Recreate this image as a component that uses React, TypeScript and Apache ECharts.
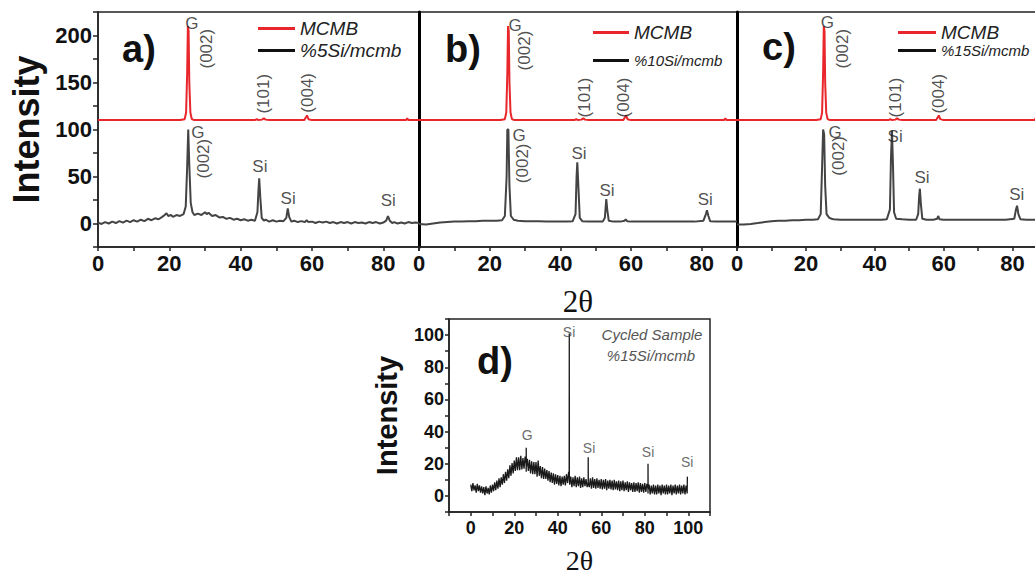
import React, { useEffect, useRef } from 'react';
import * as echarts from 'echarts';

const FONT = '"Liberation Sans", Arial, Helvetica, sans-serif';
const SERIF = '"Liberation Serif", "Times New Roman", "DejaVu Serif", serif';

// tick labels
const topXTicks = [0, 20, 40, 60, 80];
const topYTicks = [0, 50, 100, 150, 200];
const cycledXTicks = [0, 20, 40, 60, 80, 100];
const cycledYTicks = [0, 20, 40, 60, 80, 100];

// legends
const mcmbName = 'MCMB';
const sampleNames = ['%5Si/mcmb', '%10Si/mcmb', '%15Si/mcmb'];

// MCMB pattern (offset by +110 in the stacked plots)
const mcmb: number[][] = [
  [0, 110], [5, 110], [10, 110], [15, 110], [20, 110], [23, 110], [24.3, 111], [24.7, 118], [25.0, 160],
  [25.2, 210], [25.4, 205], [25.6, 150], [25.9, 118], [26.3, 111], [27, 110], [30, 110], [35, 110], [40, 110],
  [44, 110], [44.5, 111], [45, 110], [46, 110.5], [46.5, 112], [47, 110.5], [48, 110], [52, 110], [57.8, 110],
  [58.3, 113], [58.6, 115], [59, 111], [60, 110], [65, 110], [70, 110], [77, 110], [85, 110], [86.4, 110],
  [86.7, 112], [87, 110], [90, 110],
];

const si5: number[][] = [
  [0, 1], [1, -0.5], [2, 1.5], [3, 0], [4, 2], [5, 0.5], [6, 2.5], [7, 1], [8, 3], [9, 1.5], [10, 3.5], [11, 2],
  [12, 4], [13, 2.5], [14, 5], [15, 3.5], [16, 5.5], [17, 4.5], [18, 7], [18.7, 9], [19.2, 11], [19.7, 8], [20.5, 9],
  [21, 7], [22, 9], [23, 8], [24, 10], [24.6, 18], [25.0, 60], [25.3, 100], [25.6, 62], [26, 22], [26.5, 12], [27, 9],
  [28, 10.5], [29, 9], [30, 12], [30.5, 10], [31, 11.5], [32, 8], [33, 9], [34, 6.5], [35, 7], [36, 5], [37, 6],
  [38, 4], [39, 5], [40, 3.5], [41, 4.5], [42, 3], [43, 4], [44, 3], [44.7, 12], [45.0, 36], [45.2, 48], [45.5, 28],
  [45.9, 6], [46.5, 3], [47, 4], [48, 2], [49, 3.5], [50, 2], [51, 3], [52, 2.5], [52.8, 6], [53.2, 16], [53.6, 7],
  [54.2, 2], [55, 3], [56, 1.5], [57, 2.5], [58, 1.5], [58.5, 3.5], [59, 1.5], [60, 2], [61, 0.5], [62, 2], [63, 1],
  [64, 2], [65, 0.5], [66, 1.5], [67, 0], [68, 1.5], [69, 0.5], [70, 1.5], [71, 0], [72, 1.5], [73, 0.5], [74, 1],
  [75, 0], [76, 1.5], [77, 0.5], [78, 1.5], [79, 0], [80, 1], [80.8, 3], [81.3, 8], [81.8, 3], [82.5, 0.5], [83, 1.5],
  [84, 0], [85, 1], [86, 0], [87, 1.5], [88, 0.5], [89, 1], [90, 0.5],
];

const si10: number[][] = [
  [0, -0.5], [2, -1], [4, 0], [6, 1], [8, 1.5], [10, 2], [12, 2], [14, 2.5], [16, 2.5], [18, 3], [20, 3], [22, 3],
  [23.5, 3.5], [24.3, 8], [24.8, 50], [25.0, 100], [25.3, 100], [25.6, 40], [26, 8], [26.8, 4], [28, 3], [30, 2.5],
  [32, 2.5], [34, 2.5], [36, 2], [38, 2], [40, 2], [42, 2], [43.5, 2.5], [44.3, 10], [44.6, 50], [44.8, 65],
  [45.1, 40], [45.5, 6], [46.2, 2.5], [48, 2], [50, 2], [52, 2], [52.6, 6], [53.0, 26], [53.3, 14], [53.7, 3],
  [55, 2], [57, 2], [58.2, 3], [58.5, 4.5], [58.9, 2.5], [60, 2], [65, 2], [70, 2], [75, 2], [78, 2], [80.5, 3],
  [81.2, 10], [81.5, 14], [81.9, 8], [82.4, 2.5], [84, 2], [86, 2], [88, 2], [90, 2],
];

const si15: number[][] = [
  [0, -1], [2, -1], [4, -0.5], [6, 0.5], [8, 1.5], [10, 2.5], [12, 3], [14, 3], [16, 3.5], [18, 3.5], [20, 4],
  [22, 4], [23.5, 4.5], [24.3, 10], [24.7, 60], [25.0, 100], [25.3, 95], [25.6, 40], [26, 10], [26.8, 6], [27.5, 5],
  [28, 4.5], [30, 4], [32, 4], [34, 4], [36, 4], [38, 4], [40, 4], [42, 4], [43.5, 4.5], [44.4, 15], [44.7, 70],
  [45.0, 99], [45.3, 60], [45.6, 12], [46.2, 5], [48, 4.5], [50, 4], [52, 4], [52.6, 10], [52.9, 30], [53.1, 37],
  [53.4, 20], [53.8, 5], [55, 4], [57, 4], [58.1, 5], [58.4, 8], [58.8, 4.5], [60, 4], [65, 4], [70, 4], [75, 4],
  [78, 4], [80.5, 5], [81.0, 15], [81.3, 19], [81.7, 10], [82.3, 4.5], [84, 4], [86, 4], [88, 4], [90, 4],
];

// cycled sample: measured every 0.5 degree from 0
const cycledStart = 0;
const cycledStep = 0.5;
const cycledBase = [
  7, 3, 8, 3.5, 6.5, 2, 7.5, 3, 6.5, 2,
  6, 1.5, 5.5, 0.5, 6, 1.5, 5, 1, 6.5, 2,
  7, 3, 8.5, 3.5, 9.5, 4.5, 11, 5.5, 11.5, 7,
  13.5, 8, 15, 9.5, 16.5, 11, 19, 12.5, 20.5, 14,
  22, 15.5, 24, 16, 24, 16, 25, 16.5, 23.5, 17,
  24.5, 15, 23, 15.5, 22.5, 14, 21.5, 13.5, 21, 13.5,
  21, 12, 22, 12.5, 18.5, 11, 18, 10.5, 17, 10.5,
  16, 9.5, 15.5, 8.5, 14.5, 8, 14, 7, 13.5, 7.5,
  13, 6.5, 12.5, 6, 12, 7, 12.5, 6.5, 13.5, 8,
  15, 7, 12, 5.5, 11.5, 6, 12.5, 5.5, 11.5, 6,
  12, 5, 11, 5.5, 11.5, 6, 10.5, 5.5, 11.5, 5.5,
  11, 4.5, 11.5, 5, 10.5, 4.5, 11, 5, 10, 4.5,
  10.5, 4, 10, 4.5, 10.5, 3.5, 9.5, 4.5, 10, 4,
  9.5, 3.5, 10, 4, 9, 3.5, 9.5, 3, 9, 3.5,
  9.5, 3, 8.5, 3.5, 9, 2.5, 8.5, 3.5, 8, 2.5,
  8.5, 2.5, 8, 3, 8.5, 2, 8, 2.5, 7.5, 2,
  8, 2.5, 7.5, 1.5, 7, 1, 6.5, 1.5, 7, 1,
  6.5, 1, 7, 1.5, 6.5, 0.5, 7, 1.5, 6.5, 1,
  7, 1, 6.5, 1.5, 7, 0.5, 6.5, 1.5, 7, 1,
  6.5, 1.5, 7, 1, 6.5, 1.5, 7, 1, 6.5, 1.5,
];
const cycledPeaks: number[][] = [
  [25.45, 20], [25.5, 30], [25.55, 18],
  [45.25, 12], [45.3, 101], [45.35, 10],
  [53.95, 8], [54.0, 24], [54.05, 8],
  [81.45, 5], [81.5, 20], [81.55, 4],
  [99.6, 12],
];

// peak annotations: [text, 2θ, intensity, rotation]
const annotA: (string | number)[][] = [
  ['G', 26.3, 213, 0], ['(002)', 30.5, 186, 90], ['(101)', 46.5, 138, 90], ['(004)', 58.8, 139, 90],
  ['G', 28, 97, 0], ['(002)', 29.7, 69, 90], ['Si', 45.4, 61, 0], ['Si', 53.3, 27, 0], ['Si', 81.4, 24, 0],
];
const annotB: (string | number)[][] = [
  ['G', 27.2, 211, 0], ['(002)', 29.8, 184, 90], ['(101)', 46.7, 134, 90], ['(004)', 57.9, 134, 90],
  ['G', 28.3, 94, 0], ['(002)', 29.2, 64, 90], ['Si', 45.3, 75, 0], ['Si', 53.2, 35, 0], ['Si', 81, 26, 0],
];
const annotC: (string | number)[][] = [
  ['G', 26.2, 214, 0], ['(002)', 30.5, 186, 90], ['(101)', 45.9, 134, 90], ['(004)', 58.4, 138, 90],
  ['G', 28.5, 97, 0], ['(002)', 29.4, 72, 90], ['Si', 45.9, 93, 0], ['Si', 53.7, 49, 0], ['Si', 81.2, 31, 0],
];
const annotD: (string | number)[][] = [
  ['G', 25.9, 38, 0], ['Si', 45.2, 102, 0], ['Si', 54.4, 30, 0], ['Si', 81.5, 27, 0], ['Si', 99.5, 21, 0],
];

const RED = '#e8262b';
const DARK = '#444444';

function buildCycled(): number[][] {
  const pts: number[][] = cycledBase.map((y, i) => [cycledStart + i * cycledStep, y]);
  const all = pts.concat(cycledPeaks);
  all.sort((a, b) => a[0] - b[0]);
  return all;
}

function annotSeries(list: (string | number)[][], idx: number, size: number, color: string) {
  return {
    type: 'scatter',
    xAxisIndex: idx,
    yAxisIndex: idx,
    symbolSize: 0,
    silent: true,
    z: 5,
    data: list.map((a) => ({
      name: a[0] as string,
      value: [a[1], a[2]],
      label: { rotate: a[3] as number },
    })),
    label: {
      show: true,
      position: 'inside',
      formatter: '{b}',
      color,
      fontSize: size,
      fontFamily: FONT,
      align: 'center',
      verticalAlign: 'middle',
    },
  };
}

export default function App() {
  const ref = useRef<HTMLDivElement>(null);
  useEffect(() => {
    if (!ref.current) return;
    const chart = echarts.init(ref.current, null, { renderer: 'svg' });

    const axisLineDark = { show: true, onZero: false, lineStyle: { color: '#222', width: 1.5 } };
    const topGrids = [
      { left: 98, top: 12, width: 321, height: 235 },
      { left: 419, top: 12, width: 318, height: 235 },
      { left: 737, top: 12, width: 310, height: 235 },
    ];
    const gridCommon = { show: true, borderColor: '#222', borderWidth: 1.5, outerBoundsMode: 'none', containLabel: false };
    const grids: any[] = topGrids.map((g) => ({ ...g, ...gridCommon }));
    grids.push({ left: 449, top: 319, width: 261, height: 193, ...gridCommon });

    const xAxes: any[] = [0, 1, 2].map((i) => ({
      type: 'value',
      gridIndex: i,
      min: 0,
      max: 90,
      interval: 10,
      splitLine: { show: false },
      axisLine: axisLineDark,
      axisTick: { show: true, length: 4, lineStyle: { color: '#222', width: 1.5 } },
      axisLabel: {
        margin: 5,
        fontSize: 22,
        fontWeight: 'bold',
        fontFamily: FONT,
        color: '#111',
        formatter: (v: number) => (topXTicks.includes(v) ? String(v) : ''),
      },
      ...(i === 1
        ? {
            name: '2θ',
            nameLocation: 'middle',
            nameGap: 39,
            nameTextStyle: { fontFamily: SERIF, fontSize: 31, color: '#111' },
          }
        : {}),
    }));
    xAxes.push({
      type: 'value',
      gridIndex: 3,
      min: -10,
      max: 110,
      interval: 10,
      splitLine: { show: false },
      axisLine: axisLineDark,
      axisTick: { show: true, length: 4, lineStyle: { color: '#222', width: 1.5 } },
      axisLabel: {
        margin: 7,
        fontSize: 18,
        fontWeight: 'bold',
        fontFamily: FONT,
        color: '#111',
        formatter: (v: number) => (cycledXTicks.includes(v) ? String(v) : ''),
      },
      name: '2θ',
      nameLocation: 'middle',
      nameGap: 35,
      nameTextStyle: { fontFamily: SERIF, fontSize: 28, lineHeight: 26, color: '#111' },
    });

    const yAxes: any[] = [0, 1, 2].map((i) => ({
      type: 'value',
      gridIndex: i,
      min: -25,
      max: 225,
      interval: 25,
      splitLine: { show: false },
      axisLine: { show: true, onZero: false, lineStyle: { color: i === 0 ? '#222' : '#000', width: i === 0 ? 1.5 : 3 } },
      axisTick: { show: i === 0, length: 5, lineStyle: { color: '#222', width: 1.5 } },
      axisLabel: {
        show: i === 0,
        margin: 6,
        fontSize: 22,
        fontWeight: 'bold',
        fontFamily: FONT,
        color: '#111',
        formatter: (v: number) => (topYTicks.includes(v) ? String(v) : ''),
      },
      ...(i === 0
        ? {
            name: 'Intensity',
            nameLocation: 'middle',
            nameGap: 54,
            nameRotate: 90,
            nameTextStyle: { fontFamily: FONT, fontSize: 36, fontWeight: 'bold', color: '#111' },
          }
        : {}),
    }));
    yAxes.push({
      type: 'value',
      gridIndex: 3,
      min: -10,
      max: 110,
      interval: 10,
      splitLine: { show: false },
      axisLine: axisLineDark,
      axisTick: { show: true, length: 4, lineStyle: { color: '#222', width: 1.5 } },
      axisLabel: {
        margin: 5,
        fontSize: 18,
        fontWeight: 'bold',
        fontFamily: FONT,
        color: '#111',
        formatter: (v: number) => (cycledYTicks.includes(v) ? String(v) : ''),
      },
      name: 'Intensity',
      nameLocation: 'middle',
      nameGap: 48,
      nameRotate: 90,
      nameTextStyle: { fontFamily: FONT, fontSize: 29, fontWeight: 'bold', color: '#111' },
    });

    const samples = [si5, si10, si15];
    const series: any[] = [];
    [0, 1, 2].forEach((i) => {
      series.push({
        type: 'line',
        name: mcmbName,
        xAxisIndex: i,
        yAxisIndex: i,
        data: mcmb,
        showSymbol: false,
        symbol: 'none',
        lineStyle: { color: RED, width: 2 },
        itemStyle: { color: RED },
        z: 3,
      });
      series.push({
        type: 'line',
        name: sampleNames[i],
        xAxisIndex: i,
        yAxisIndex: i,
        data: samples[i],
        showSymbol: false,
        symbol: 'none',
        lineStyle: { color: DARK, width: 2 },
        itemStyle: { color: '#111' },
        z: 3,
      });
    });
    series.push({
      type: 'line',
      name: 'Cycled Sample',
      xAxisIndex: 3,
      yAxisIndex: 3,
      data: buildCycled(),
      showSymbol: false,
      symbol: 'none',
      lineStyle: { color: '#1a1a1a', width: 1.3 },
      z: 3,
    });
    series.push(annotSeries(annotA, 0, 17, '#222'));
    series.push(annotSeries(annotB, 1, 17, '#222'));
    series.push(annotSeries(annotC, 2, 17, '#222'));
    series.push(annotSeries(annotD, 3, 14, '#444'));

    const legendBase = {
      orient: 'vertical',
      icon: 'rect',
      itemHeight: 3,
      selectedMode: false,
      textStyle: { fontStyle: 'italic', fontFamily: FONT, color: '#222', fontSize: 19 },
    };

    const option: any = {
      animation: false,
      backgroundColor: '#fff',
      grid: grids,
      xAxis: xAxes,
      yAxis: yAxes,
      legend: [
        {
          ...legendBase,
          left: 253,
          top: 14,
          itemWidth: 37,
          itemGap: 3,
          data: [{ name: mcmbName }, { name: sampleNames[0] }],
        },
        {
          ...legendBase,
          left: 588,
          top: 18,
          itemWidth: 36,
          itemGap: 11,
          data: [
            { name: mcmbName },
            { name: sampleNames[1], textStyle: { fontSize: 15, fontStyle: 'italic', fontFamily: FONT, color: '#222' } },
          ],
        },
        {
          ...legendBase,
          left: 893,
          top: 18,
          itemWidth: 38,
          itemGap: 1,
          data: [
            { name: mcmbName },
            { name: sampleNames[2], textStyle: { fontSize: 15, fontStyle: 'italic', fontFamily: FONT, color: '#222' } },
          ],
        },
      ],
      graphic: [
        { type: 'text', left: 122, top: 30, style: { text: 'a)', font: `bold 38px ${FONT}`, fill: '#111' } },
        { type: 'text', left: 445, top: 30, style: { text: 'b)', font: `bold 38px ${FONT}`, fill: '#111' } },
        { type: 'text', left: 762, top: 28, style: { text: 'c)', font: `bold 38px ${FONT}`, fill: '#111' } },
        { type: 'text', left: 477, top: 342, style: { text: 'd)', font: `bold 38px ${FONT}`, fill: '#111' } },
        {
          type: 'text',
          x: 652,
          y: 334,
          style: { text: 'Cycled Sample', font: `italic 15px ${FONT}`, fill: '#555', align: 'center', verticalAlign: 'middle' },
        },
        {
          type: 'text',
          x: 651,
          y: 355,
          style: { text: '%15Si/mcmb', font: `italic 15px ${FONT}`, fill: '#555', align: 'center', verticalAlign: 'middle' },
        },
      ],
      series,
    };
    chart.setOption(option);
    return () => chart.dispose();
  }, []);

  return (
    <div
      ref={ref}
      style={{ position: 'fixed', left: 0, top: 0, width: 1035, height: 574, background: '#fff' }}
    />
  );
}
